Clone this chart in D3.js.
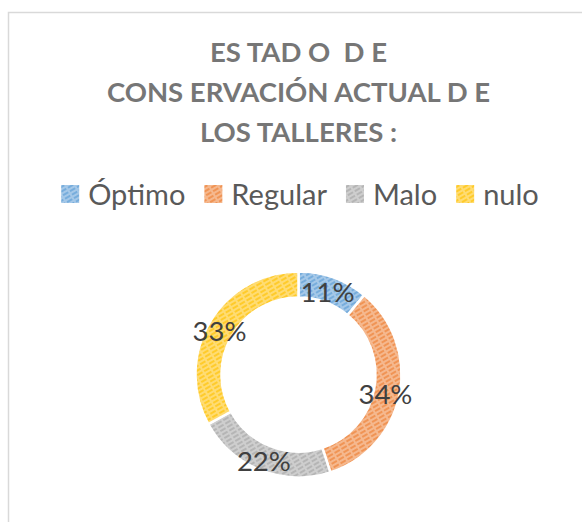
<!DOCTYPE html>
<html>
<head>
<meta charset="utf-8">
<script src="https://cdn.jsdelivr.net/npm/d3@7"></script>
<style>
  body { margin: 0; background: #fff; }
  svg { display: block; font-family: Lato, 'Open Sans', sans-serif; }
  .title { white-space: pre; }
</style>
</head>
<body>
<svg id="chart" width="582" height="522"></svg>
<script>
const categories = ['Óptimo', 'Regular', 'Malo', 'nulo'];
const values = [11, 34, 22, 33];
const colors = ['#5B9BD5', '#ED7D31', '#A5A5A5', '#FFC000'];
const titleLines = ['ES TAD O  D E', 'CONS ERVACIÓN ACTUAL D E', 'LOS TALLERES :'];

const svg = d3.select('#chart');
const cx = 298.5, cy = 374.5;
const outer = 103, inner = 77;

// hatched fills like the excel texture
const defs = svg.append('defs');
colors.forEach((c, i) => {
  const p = defs.append('pattern')
    .attr('id', 'hatch' + i)
    .attr('patternUnits', 'userSpaceOnUse')
    .attr('width', 8)
    .attr('height', 4)
    .attr('patternTransform', 'rotate(-30)');
  p.append('rect')
    .attr('width', 8).attr('height', 4)
    .attr('fill', d3.interpolateRgb('#ffffff', c)(0.55));
  p.append('line')
    .attr('x1', 0).attr('y1', 2).attr('x2', 8).attr('y2', 2)
    .attr('stroke', c)
    .attr('stroke-width', 1.4)
    .attr('stroke-dasharray', '6 2')
    .attr('opacity', 0.9);
});

// chart frame (clipped by the window at right and bottom)
svg.append('rect')
  .attr('x', 8.5).attr('y', 12.5)
  .attr('width', 700).attr('height', 700)
  .attr('fill', 'none')
  .attr('stroke', '#d9d9d9')
  .attr('stroke-width', 1.5);

svg.append('g')
  .selectAll('text')
  .data(titleLines)
  .join('text')
  .attr('class', 'title')
  .attr('x', cx)
  .attr('y', (d, i) => 62 + i * 40)
  .attr('text-anchor', 'middle')
  .attr('font-size', 27.5)
  .attr('font-weight', 'bold')
  .attr('fill', '#767676')
  .text(d => d);

// legend, laid out from measured text widths
const legend = svg.append('g');
const items = legend.selectAll('g')
  .data(categories)
  .join('g');
items.append('rect')
  .attr('width', 18).attr('height', 18)
  .attr('y', 185)
  .attr('fill', (d, i) => `url(#hatch${i})`);
items.append('text')
  .attr('x', 27)
  .attr('y', 205)
  .attr('font-size', 29)
  .attr('fill', '#595959')
  .text(d => d);
let xPos = 0;
items.each(function () {
  const w = d3.select(this).select('text').node().getComputedTextLength();
  d3.select(this).attr('transform', `translate(${xPos},0)`);
  xPos += 27 + w + 19;
});
const total = xPos - 19;
legend.attr('transform', `translate(${cx + 1.5 - total / 2},0)`);

// doughnut
const pie = d3.pie().sort(null).value(d => d);
const arc = d3.arc().innerRadius(inner).outerRadius(outer);
const labelArc = d3.arc().innerRadius((inner + outer) / 2).outerRadius((inner + outer) / 2);
const arcs = pie(values);

const g = svg.append('g').attr('transform', `translate(${cx},${cy})`);
g.selectAll('path')
  .data(arcs)
  .join('path')
  .attr('d', arc)
  .attr('fill', (d, i) => `url(#hatch${i})`)
  .attr('stroke', '#fff')
  .attr('stroke-width', 2.5);

const totalVal = d3.sum(values);
g.selectAll('text')
  .data(arcs)
  .join('text')
  .attr('transform', d => `translate(${labelArc.centroid(d)})`)
  .attr('text-anchor', 'middle')
  .attr('dy', '0.38em')
  .attr('x', -1.5)
  .attr('y', 2)
  .attr('font-size', 27.5)
  .attr('fill', '#404040')
  .text(d => Math.round(d.data / totalVal * 100) + '%');
</script>
</body>
</html>
